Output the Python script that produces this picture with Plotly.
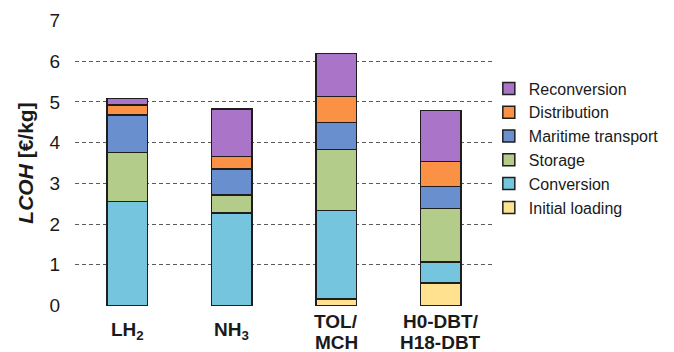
import plotly.graph_objects as go

categories = ["LH2", "NH3", "TOL/MCH", "H0-DBT/H18-DBT"]
category_label_lines = [["LH<sub>2</sub>"], ["NH<sub>3</sub>"], ["TOL/", "MCH"], ["H0-DBT/", "H18-DBT"]]

series_names = ["Initial loading", "Conversion", "Storage", "Maritime transport", "Distribution", "Reconversion"]
initial_loading = [0.0, 0.0, 0.16, 0.55]
conversion = [2.55, 2.27, 2.17, 0.52]
storage = [1.21, 0.44, 1.50, 1.31]
maritime_transport = [0.92, 0.64, 0.66, 0.54]
distribution = [0.24, 0.31, 0.65, 0.62]
reconversion = [0.17, 1.17, 1.05, 1.25]

y_ticks = [0, 1, 2, 3, 4, 5, 6, 7]

colors = ["#ffe190", "#75c5df", "#b3cc8a", "#6a8fce", "#fb9144", "#aa74c8"]
values = [initial_loading, conversion, storage, maritime_transport, distribution, reconversion]

FONT = "Arial, Liberation Sans, sans-serif"
TXT = "#1a1a1a"

fig = go.Figure()
for name, vals, col in zip(series_names, values, colors):
    fig.add_trace(go.Bar(
        x=categories, y=vals, name=name,
        marker=dict(color=col, line=dict(color="#1e1e1e", width=1.5)),
    ))

# category labels (one annotation per text line, vertically centred like the reference)
for cat, lines in zip(categories, category_label_lines):
    if len(lines) == 1:
        shifts = [-25]
    else:
        shifts = [-15, -36]
    for line, sh in zip(lines, shifts):
        fig.add_annotation(
            x=cat, xref="x", y=0, yref="paper", yanchor="middle", yshift=sh,
            text="<b>" + line + "</b>", showarrow=False,
            font=dict(family=FONT, size=19, color=TXT),
        )

fig.update_layout(
    barmode="stack",
    bargap=0.61,
    width=666, height=344,
    margin=dict(l=67, r=181, t=12, b=46, autoexpand=False),
    plot_bgcolor="white", paper_bgcolor="white",
    font=dict(family=FONT, color=TXT),
    showlegend=True,
    legend=dict(
        traceorder="reversed",
        x=0.99, xanchor="left", y=0.82, yanchor="top",
        font=dict(family=FONT, size=16, color=TXT),
        itemwidth=30, tracegroupgap=0,
        bgcolor="rgba(0,0,0,0)",
    ),
    xaxis=dict(showticklabels=False, showline=False, showgrid=False, zeroline=False, automargin=False),
    yaxis=dict(
        range=[-0.015, 7.015], tickvals=y_ticks, showline=False, zeroline=False,
        automargin=False,
        showgrid=True, gridcolor="#5a5a5a", gridwidth=1, griddash="4px,3px",
        tickfont=dict(family=FONT, size=19, color=TXT),
        ticklabelstandoff=14,
        title=dict(text="<b><i>LCOH</i> [€/kg]</b>", font=dict(family=FONT, size=21, color=TXT), standoff=10),
    ),
)

fig.write_html("out.html")
